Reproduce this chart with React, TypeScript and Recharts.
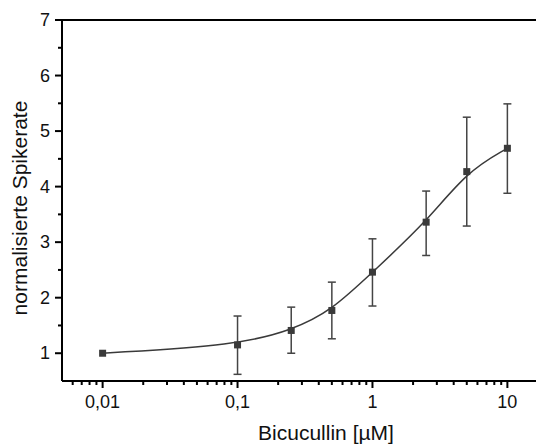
import React from "react";
import { LineChart, Line, XAxis, YAxis, ErrorBar, ReferenceLine } from "recharts";

// Bicucullin concentration [µM]
const concentrations = [0.01, 0.1, 0.25, 0.5, 1, 2.5, 5, 10];
// normalised spike rate (mean)
const spikeRate = [1.0, 1.15, 1.41, 1.77, 2.46, 3.36, 4.27, 4.69];
// error bar ends
const upperBound = [null, 1.67, 1.83, 2.28, 3.06, 3.92, 5.25, 5.49];
const lowerBound = [null, 0.62, 1.0, 1.26, 1.85, 2.76, 3.29, 3.88];

const xMajorTicks = [0.01, 0.1, 1, 10];
const xMinorTicks = [
  0.006, 0.007, 0.008, 0.009,
  0.02, 0.03, 0.04, 0.05, 0.06, 0.07, 0.08, 0.09,
  0.2, 0.3, 0.4, 0.5, 0.6, 0.7, 0.8, 0.9,
  2, 3, 4, 5, 6, 7, 8, 9,
];
const yMajorTicks = [1, 2, 3, 4, 5, 6, 7];
const yMinorTicks = [1.5, 2.5, 3.5, 4.5, 5.5, 6.5];

const data = concentrations.map((c, i) => ({
  x: c,
  y: spikeRate[i],
  err:
    upperBound[i] == null
      ? undefined
      : [spikeRate[i] - (lowerBound[i] as number), (upperBound[i] as number) - spikeRate[i]],
}));

const FONT = "'Liberation Sans', Arial, Helvetica, sans-serif";
const INK = "#3a3a3a";

const fmt = (v: number) => String(v).replace(".", ",");

const XTick = (props: any) => {
  const { x, y, payload } = props;
  const major = xMajorTicks.includes(payload.value);
  return (
    <g>
      <line x1={x} x2={x} y1={y} y2={y + (major ? 7 : 4)} stroke="#000" strokeWidth={2} />
      {major && (
        <text x={x} y={y + 27} textAnchor="middle" fontSize={18} fontFamily={FONT} fill="#111">
          {fmt(payload.value)}
        </text>
      )}
    </g>
  );
};

const YTick = (props: any) => {
  const { x, y, payload } = props;
  const major = yMajorTicks.includes(payload.value);
  return (
    <g>
      <line x1={x} x2={x - (major ? 7 : 4)} y1={y} y2={y} stroke="#000" strokeWidth={2} />
      {major && (
        <text x={x - 12} y={y + 6} textAnchor="end" fontSize={18} fontFamily={FONT} fill="#111">
          {payload.value}
        </text>
      )}
    </g>
  );
};

const Square = (props: any) => {
  const { cx, cy } = props;
  if (cx == null || cy == null) return null;
  return <rect x={cx - 3.5} y={cy - 3.5} width={7} height={7} fill={INK} />;
};

export default function App() {
  return (
    <div style={{ width: 536, height: 437, overflow: "hidden" }}>
      <LineChart
        width={560}
        height={437}
        data={data}
        margin={{ top: 12, right: 20, bottom: 0, left: 0 }}
      >
        <XAxis
          dataKey="x"
          type="number"
          scale="log"
          domain={[0.005, 20]}
          allowDataOverflow
          ticks={[...xMinorTicks, ...xMajorTicks].sort((a, b) => a - b)}
          interval={0}
          tickSize={0}
          tickMargin={0}
          tickLine={false}
          tick={<XTick />}
          axisLine={{ stroke: "#000", strokeWidth: 2 }}
          height={64}
          label={{
            content: () => (
              <text x={318} y={432} textAnchor="middle" fontSize={21} fontFamily={FONT} fill="#111">
                Bicucullin [µM]
              </text>
            ),
          }}
        />
        <YAxis
          type="number"
          domain={[0.5, 7]}
          allowDataOverflow
          ticks={[...yMinorTicks, ...yMajorTicks].sort((a, b) => a - b)}
          interval={0}
          tickSize={0}
          tickMargin={0}
          tickLine={false}
          tick={<YTick />}
          axisLine={{ stroke: "#000", strokeWidth: 2 }}
          width={54}
          label={{
            content: () => (
              <text
                x={19}
                y={200}
                transform="rotate(-90 19 200)"
                textAnchor="middle"
                fontSize={21}
                fontFamily={FONT}
                fill="#111"
              >
                normalisierte Spikerate
              </text>
            ),
          }}
        />
        <ReferenceLine y={7} stroke="#000" strokeWidth={2} />
        <Line
          dataKey="y"
          type="basis"
          stroke={INK}
          strokeWidth={1.5}
          dot={<Square />}
          activeDot={false}
          isAnimationActive={false}
        >
          <ErrorBar dataKey="err" direction="y" width={4} stroke="#444" strokeWidth={1.5} />
        </Line>
      </LineChart>
    </div>
  );
}
